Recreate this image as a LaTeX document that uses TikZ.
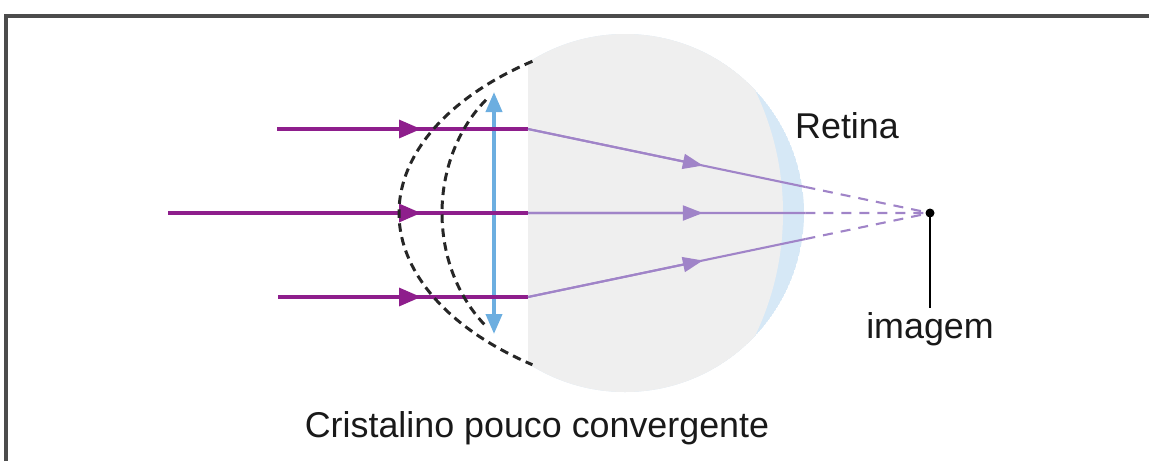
\documentclass[tikz,border=0pt]{standalone}
\usepackage{fontspec}
\setmainfont{Liberation Sans}
\usepackage{xcolor}
\definecolor{raypurple}{RGB}{142,30,140}
\definecolor{raylilac}{RGB}{160,132,200}
\definecolor{lensblue}{RGB}{108,174,224}
\definecolor{retinablue}{RGB}{214,232,246}
\definecolor{eyegray}{RGB}{239,239,239}
\usepackage{tikz}
\usetikzlibrary{arrows.meta,calc}

\begin{document}
\begin{tikzpicture}[
    font=\fontsize{10.2}{12}\selectfont,
    inray/.style={line width=0.95pt,raypurple},
    outray/.style={line width=0.6pt,raylilac},
    lensarc/.style={line width=0.85pt,black!85,dash pattern=on 0.85mm off 0.55mm},
    label/.style={anchor=base,inner sep=1pt,black!90},
  ]
    \def\ya{2.48} \def\h{0.84} \def\xl{5.28} \def\r{1.79}
    \useasboundingbox (0,0) rectangle (11.49,4.61);
    % frame, only its top and left edges are seen
    \draw[line width=0.9pt,black!70] (0.06,0) -- (0.06,4.45) -- (11.49,4.45);

    % eye ball, cut flat at the lens, retina as a crescent on the right
    \begin{scope}
        \clip (\xl,0) rectangle (8.3,4.4);
        \clip (6.25,\ya) circle (\r);
        \fill[retinablue] (6.25,\ya) circle (\r);
        \fill[eyegray] (5.0,\ya) circle (2.83);
    \end{scope}

    % lens axis
    \coordinate (LT) at (4.94,{\ya+1.21});
    \coordinate (LB) at (4.94,{\ya-1.21});
    \draw[lensblue,line width=1.1pt,{Triangle[length=2mm,width=1.6mm]}-{Triangle[length=2mm,width=1.6mm]}] (LB) -- (LT);

    % rays: parallel in front, converging behind the retina
    \coordinate (F) at (9.30,\ya);
    \foreach \n/\dy/\xs in {t/\h/2.77, m/0/1.68, b/-\h/2.78} {
        \coordinate (S\n) at (\xs,{\ya+\dy});
        \coordinate (A\n) at (4.21,{\ya+\dy});
        \coordinate (L\n) at (\xl,{\ya+\dy});
        \coordinate (M\n) at ($(L\n)!0.435!(F)$);
        \coordinate (R\n) at ($(L\n)!0.69!(F)$);
        \draw[inray] (S\n) -- (L\n);
        \draw[inray,-{Triangle[length=2.2mm,width=1.8mm]}] (S\n) -- (A\n);
        \draw[outray] (L\n) -- (R\n);
        \draw[outray,-{Triangle[length=2mm,width=1.5mm]}] (L\n) -- (M\n);
        \draw[outray,dash pattern=on 1mm off 0.8mm] (R\n) -- (F);
    }

    % lens surfaces
    \draw[lensarc] (7.34,\ya) ++(127:3.35 and 1.9)
        arc[start angle=127,end angle=233,x radius=3.35,y radius=1.9];
    \draw[lensarc] (5.70,\ya) ++(131:1.28 and 1.5)
        arc[start angle=131,end angle=229,x radius=1.28,y radius=1.5];

    % image point
    \fill (F) circle (0.045);
    \node[label] (img) at (9.30,1.23) {imagem};
    \draw[line width=0.7pt] (F) -- (img.north);

    \node[label] (ret) at (8.47,3.23) {Retina};
    \node[label] (crist) at (5.37,0.24) {Cristalino pouco convergente};
\end{tikzpicture}
\end{document}
